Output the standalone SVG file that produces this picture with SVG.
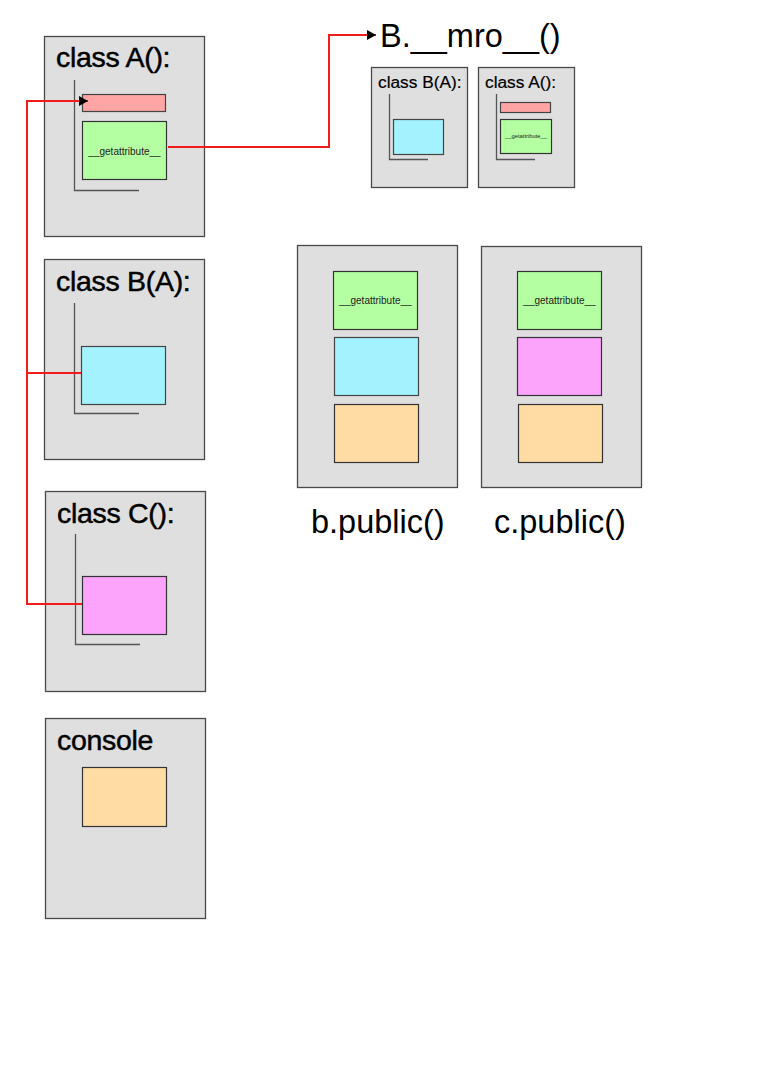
<svg xmlns="http://www.w3.org/2000/svg" width="761" height="1076" viewBox="0 0 761 1076">
<defs>
<style>
.box{fill:#dfdfdf;stroke:#4a4a4a;stroke-width:1.3}
.br{fill:none;stroke:#555;stroke-width:1.3}
.pink{fill:#ffa5a5;stroke:#444;stroke-width:1.2}
.green{fill:#b5ffa3;stroke:#333;stroke-width:1.2}
.cyan{fill:#a4f2fd;stroke:#444;stroke-width:1.2}
.mag{fill:#fca4fc;stroke:#333;stroke-width:1.2}
.orange{fill:#fedca3;stroke:#333;stroke-width:1.2}
.h{font-family:"Liberation Sans",Arial,sans-serif;font-size:28.5px;fill:#000;stroke:#000;stroke-width:0.5;letter-spacing:-0.3px}
.hs{font-family:"Liberation Sans",Arial,sans-serif;font-size:17.3px;fill:#000;stroke:#000;stroke-width:0.2}
.big{font-family:"Liberation Sans",Arial,sans-serif;font-size:32.5px;fill:#000}
.ga{font-family:"Liberation Sans",Arial,sans-serif;font-size:10px;fill:#222;text-anchor:middle}
.gs{font-family:"Liberation Sans",Arial,sans-serif;font-size:5.8px;fill:#222;text-anchor:middle}
.red{fill:none;stroke:#f21c1c;stroke-width:2}
</style>
<marker id="arr" markerWidth="10" markerHeight="10" refX="9" refY="5" orient="auto" markerUnits="userSpaceOnUse">
<path d="M0,0 L9,5 L0,10 Z" fill="#000"/>
</marker>
</defs>
<rect width="761" height="1076" fill="#fff"/>

<g id="classA">
<rect class="box" x="44.5" y="36.5" width="160" height="200"/>
<text class="h" x="56" y="67">class A():</text>
<path class="br" d="M74.5,80 V190.5 H139"/>
<rect class="pink" x="82.5" y="94.5" width="83" height="17"/>
<rect class="green" x="82.5" y="121.5" width="84" height="58"/>
<text class="ga" x="124.5" y="155">__getattribute__</text>
</g>

<g id="classB">
<rect class="box" x="44.5" y="259.5" width="160" height="200"/>
<text class="h" x="56" y="291">class B(A):</text>
<path class="br" d="M74.5,303 V413.5 H139"/>
<rect class="cyan" x="81.5" y="346.5" width="84" height="58"/>
</g>

<g id="classC">
<rect class="box" x="45.5" y="491.5" width="160" height="200"/>
<text class="h" x="57" y="523">class C():</text>
<path class="br" d="M75.5,534 V644.5 H140"/>
<rect class="mag" x="82.5" y="576.5" width="84" height="58"/>
</g>

<g id="console">
<rect class="box" x="45.5" y="718.5" width="160" height="200"/>
<text class="h" x="57" y="750">console</text>
<rect class="orange" x="82.5" y="767.5" width="84" height="59"/>
</g>

<g id="mroLabel">
<text class="big" x="380" y="47">B.__mro__()</text>
</g>

<g id="mroB">
<rect class="box" x="371.5" y="67.5" width="96" height="120"/>
<text class="hs" x="378" y="88">class B(A):</text>
<path class="br" d="M389.5,94 V159.5 H428"/>
<rect class="cyan" x="393.5" y="119.5" width="50" height="35"/>
</g>

<g id="mroA">
<rect class="box" x="478.5" y="67.5" width="96" height="120"/>
<text class="hs" x="485" y="88">class A():</text>
<path class="br" d="M496.5,94 V159.5 H535"/>
<rect class="pink" x="500.5" y="102.5" width="50" height="10"/>
<rect class="green" x="500.5" y="119.5" width="51" height="34"/>
<text class="gs" x="526" y="138">__getattribute__</text>
</g>

<g id="bpublic">
<rect class="box" x="297.5" y="245.5" width="160" height="242"/>
<rect class="green" x="333.5" y="271.5" width="84" height="58"/>
<text class="ga" x="375.5" y="304">__getattribute__</text>
<rect class="cyan" x="334.5" y="337.5" width="84" height="58"/>
<rect class="orange" x="334.5" y="404.5" width="84" height="58"/>
<text class="big" x="311" y="533">b.public()</text>
</g>

<g id="cpublic">
<rect class="box" x="481.5" y="246.5" width="160" height="241"/>
<rect class="green" x="517.5" y="271.5" width="84" height="58"/>
<text class="ga" x="559.5" y="304">__getattribute__</text>
<rect class="mag" x="517.5" y="337.5" width="84" height="58"/>
<rect class="orange" x="518.5" y="404.5" width="84" height="58"/>
<text class="big" x="494" y="533">c.public()</text>
</g>

<g id="connectors">
<path class="red" d="M81,373 H27 V604 H82"/>
<path class="red" d="M27,373 V101 H88" marker-end="url(#arr)"/>
<path class="red" d="M168,147 H329 V35 H376" marker-end="url(#arr)"/>
</g>
</svg>
